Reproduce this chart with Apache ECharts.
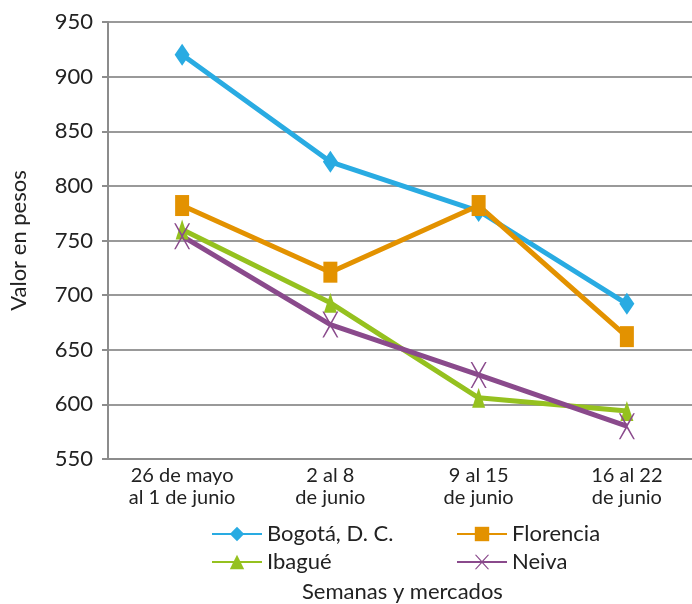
<!DOCTYPE html>
<html><head><meta charset="utf-8">
<script src="https://cdn.jsdelivr.net/npm/echarts@6/dist/echarts.min.js"></script>
<style>html,body{margin:0;padding:0;background:#fff}#c{width:692px;height:604px}</style>
</head><body><div id="c"></div>
<script>
const categories = ['26 de mayo\nal 1 de junio', '2 al 8\nde junio', '9 al 15\nde junio', '16 al 22\nde junio'];
const bogota = [920, 822, 777, 692];
const florencia = [782, 721, 782, 662];
const ibague = [760, 693, 606, 594];
const neiva = [754, 673, 627, 580];
const yTicks = [550, 600, 650, 700, 750, 800, 850, 900, 950];

const FONT = 'Lato';
const xPath = 'path://M0,0 L2,0 L10,8.5 L18,0 L20,0 L11,10 L20,20 L18,20 L10,11.5 L2,20 L0,20 L9,10 Z';

function mk(name, data, color, symbol, size) {
  return {
    name, type: 'line', data, symbol, symbolSize: size,
    lineStyle: { color, width: 5 },
    itemStyle: { color },
    z: 3
  };
}

const chart = echarts.init(document.getElementById('c'), null, { renderer: 'canvas' });
chart.setOption({
  animation: false,
  textStyle: { fontFamily: FONT, color: '#222' },
  grid: { left: 108, width: 593, top: 22, height: 437, containLabel: false, outerBoundsMode: 'none' },
  xAxis: {
    type: 'category', data: categories, boundaryGap: true,
    axisLine: { lineStyle: { color: '#8c8c8c', width: 2 } },
    axisTick: { show: false },
    axisLabel: { fontFamily: FONT, fontSize: 20, color: '#222', lineHeight: 22, margin: 6 }
  },
  yAxis: {
    type: 'value', min: yTicks[0], max: yTicks[yTicks.length - 1], interval: 50,
    name: 'Valor en pesos', nameLocation: 'middle', nameGap: 78,
    nameTextStyle: { fontFamily: FONT, fontSize: 22, color: '#222' },
    axisLine: { show: true, lineStyle: { color: '#8c8c8c', width: 2 } },
    axisTick: { show: true, length: 6, lineStyle: { color: '#8c8c8c', width: 2 } },
    axisLabel: { fontFamily: FONT, fontSize: 22, color: '#222', margin: 15 },
    splitLine: { lineStyle: { color: '#999', width: 2 } }
  },
  legend: [
    {
      data: ['Bogotá, D. C.', 'Ibagué'], orient: 'vertical', left: 206, top: 518,
      itemWidth: 50, itemHeight: 18, itemGap: 6,
      textStyle: { fontFamily: FONT, fontSize: 22, color: '#222' }
    },
    {
      data: ['Florencia', 'Neiva'], orient: 'vertical', left: 451, top: 518,
      itemWidth: 50, itemHeight: 18, itemGap: 6,
      textStyle: { fontFamily: FONT, fontSize: 22, color: '#222' }
    }
  ],
  graphic: [{
    type: 'text', left: 302, top: 581,
    style: { text: 'Semanas y mercados', font: '22px ' + FONT, fill: '#222' }
  }],
  series: [
    mk('Bogotá, D. C.', bogota, '#29abe2', 'diamond', [15, 22]),
    mk('Florencia', florencia, '#e39200', 'rect', [14, 21]),
    mk('Ibagué', ibague, '#95c11f', 'triangle', [13, 20]),
    mk('Neiva', neiva, '#8a4a8c', xPath, [16, 26])
  ]
});
</script></body></html>
